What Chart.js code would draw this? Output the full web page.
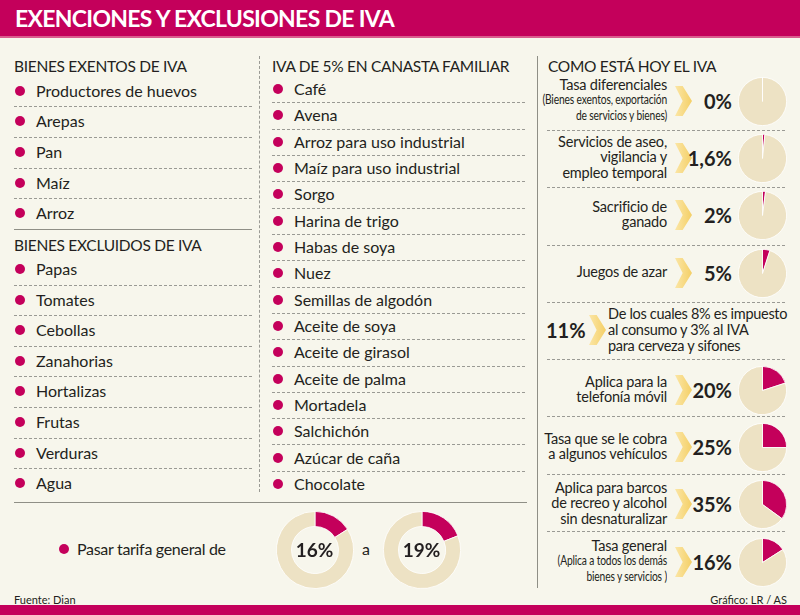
<!DOCTYPE html>
<html>
<head>
<meta charset="utf-8">
<script src="https://cdn.jsdelivr.net/npm/chart.js@4.4.1/dist/chart.umd.min.js"></script>
<style>
  html,body{margin:0;padding:0;}
  body{width:800px;height:615px;position:relative;overflow:hidden;background:#F7F6EC;font-family:Lato,"Open Sans",sans-serif;color:#231F20;}
  .abs{position:absolute;}
  #hdr{left:0;top:0;width:800px;height:36px;background:#C4005B;border-bottom:2px solid #DA5C8E;}
  #title{left:15px;top:4px;color:#fff;font-weight:700;font-size:23px;letter-spacing:-0.7px;white-space:nowrap;}
  #foot{left:0;top:605px;width:800px;height:10px;background:#C4005B;}
  .head{font-size:15.5px;white-space:nowrap;line-height:20px;letter-spacing:-0.3px;}
  .item{font-size:16px;white-space:nowrap;line-height:20px;}
  .dot{width:10px;height:10px;border-radius:50%;background:#C4005B;}
  .dash{height:0;border-top:1px dashed #9a9a94;}
  .solid{height:0;border-top:1px solid #8f8f86;}
  .lbl{font-size:14.5px;line-height:15.5px;text-align:right;white-space:nowrap;letter-spacing:-0.2px;}
  .lbl div{height:15.5px;}
  .cond{transform:scaleX(0.76);transform-origin:100% 50%;font-size:13.5px;}
  .pct{font-weight:700;font-size:20px;line-height:22px;text-align:right;white-space:nowrap;}
  .arrow{width:17px;height:30px;background:linear-gradient(90deg,#FBE6A6,#F4CF66);clip-path:polygon(0 0,45% 0,100% 50%,45% 100%,0 100%,45% 50%);}
  .small{font-size:11px;white-space:nowrap;}
</style>
</head>
<body>
<div id="hdr" class="abs"></div>
<div id="title" class="abs">EXENCIONES Y EXCLUSIONES DE IVA</div>
<div id="foot" class="abs"></div>
<div id="root"></div>
<script>
// ---- data ----
const exentosTitle = "BIENES EXENTOS DE IVA";
const exentos = ["Productores de huevos","Arepas","Pan","Maíz","Arroz"];
const excluidosTitle = "BIENES EXCLUIDOS DE IVA";
const excluidos = ["Papas","Tomates","Cebollas","Zanahorias","Hortalizas","Frutas","Verduras","Agua"];
const canastaTitle = "IVA DE 5% EN CANASTA FAMILIAR";
const canasta = ["Café","Avena","Arroz para uso industrial","Maíz para uso industrial","Sorgo","Harina de trigo","Habas de soya","Nuez","Semillas de algodón","Aceite de soya","Aceite de girasol","Aceite de palma","Mortadela","Salchichón","Azúcar de caña","Chocolate"];
const hoyTitle = "COMO ESTÁ HOY EL IVA";
const tasaLabels = [
  ["Tasa diferenciales","~(Bienes exentos, exportación","~de servicios y bienes)"],
  ["Servicios de aseo,","vigilancia y","empleo temporal"],
  ["Sacrificio de","ganado"],
  ["Juegos de azar"],
  ["Aplica para la","telefonía móvil"],
  ["Tasa que se le cobra","a algunos vehículos"],
  ["Aplica para barcos","de recreo y alcohol","sin desnaturalizar"],
  ["Tasa general","~(Aplica a todos los demás","~bienes y servicios )"]
];
const tasaText = ["0%","1,6%","2%","5%","20%","25%","35%","16%"];
const tasaValues = [0,1.6,2,5,20,25,35,16];
const licoresText = "11%";
const licoresLines = ["De los cuales 8% es impuesto","al consumo y 3% al IVA","para cerveza y sifones"];
const tarifaLabel = "Pasar tarifa general de";
const tarifaValues = [16,19];
const tarifaText = ["16%","19%"];
const fuente = "Fuente: Dian";
const credito = "Gráfico: LR / AS";

// ---- layout helpers ----
const root = document.getElementById('root');
function el(cls, x, y, html, extra){
  const d = document.createElement('div');
  d.className = 'abs ' + cls;
  d.style.left = x + 'px'; d.style.top = y + 'px';
  if (html !== undefined) d.innerHTML = html;
  if (extra) Object.assign(d.style, extra);
  root.appendChild(d); return d;
}
function hline(cls, x1, x2, y){ el(cls, x1, y, undefined, {width:(x2-x1)+'px'}); }
function textC(cls, x, cy, txt, h){ el(cls, x, cy - h/2, txt); }

const MAG = '#C4005B', BEIGE = '#EDE2C4';

// left column
textC('head', 14, 66, exentosTitle, 20);
const exY = [91,121,152,183,213];
exentos.forEach((t,i)=>{
  el('dot', 15, exY[i]-5);
  textC('item', 36, exY[i], t, 20);
  if (i < exentos.length-1) hline('dash', 14, 252, (exY[i]+exY[i+1])/2);
});
hline('solid', 14, 252, 229);
textC('head', 14, 245, excluidosTitle, 20);
const xcY = [269,300,330,361,391,422,453,483];
excluidos.forEach((t,i)=>{
  el('dot', 15, xcY[i]-5);
  textC('item', 36, xcY[i], t, 20);
  if (i < excluidos.length-1) hline('dash', 14, 252, (xcY[i]+xcY[i+1])/2);
});

// middle column
el('abs', 259, 56, undefined, {width:'0', height:'436px', borderLeft:'1px dashed #9a9a94'});
textC('head', 272, 66, canastaTitle, 20);
canasta.forEach((t,i)=>{
  const y = 89 + i*26.33;
  el('dot', 273, y-5);
  textC('item', 294, y, t, 20);
  if (i < canasta.length-1) hline('dash', 272, 525, y+13.2);
});
hline('solid', 14, 527, 502);

// bottom
el('dot', 59, 544);
el('item', 77, 539, tarifaLabel, {letterSpacing:'-0.3px'});
el('item', 362, 539, 'a');

// right column
el('abs', 537, 56, undefined, {width:'0', height:'532px', borderLeft:'1px solid #8f8f86'});
textC('head', 548, 66, hoyTitle, 20);
const rowY = [101,158,215,273,390,447,504,562];
const sepY = [130,187,245,302,359,416,474,531];
sepY.forEach(y=>hline('dash', 547, 785, y));

function pie(cx, cy, r, val, cut){
  const s = 2*r+2;
  const wrap = el('abs', cx - s/2, cy - s/2, undefined, {width:s+'px', height:s+'px'});
  const c = document.createElement('canvas');
  c.width = s; c.height = s; c.style.width = s+'px'; c.style.height = s+'px';
  wrap.appendChild(c);
  new Chart(c, {
    type: cut ? 'doughnut' : 'pie',
    data: { labels:['IVA','Resto'], datasets:[{ data:[val, 100-val], backgroundColor:[MAG, BEIGE], borderColor:'#FFFFFF', borderWidth:0.8 }] },
    options: {
      responsive:false, animation:false, devicePixelRatio:1, events:[],
      cutout: cut || 0,
      layout:{padding:0},
      plugins:{ legend:{display:false}, tooltip:{enabled:false} }
    }
  });
}

tasaLabels.forEach((lines,i)=>{
  const cy = rowY[i];
  const lh = 15.5;
  const html = lines.map(l => l.startsWith('~') ? '<div class="cond">'+l.slice(1)+'</div>' : '<div>'+l+'</div>').join('');
  el('lbl', 0, cy - lines.length*lh/2 - 1, html, {left:'auto', right:'133px'});
  el('arrow', 675, cy-15);
  el('pct', 0, cy-11, tasaText[i], {width:'732px'});
  pie(762, cy, 23.5, tasaValues[i], 0);
});

// 11% row
el('pct', 546, 319, licoresText, {textAlign:'left'});
el('arrow', 589, 315);
el('lbl', 608, 330 - 24, licoresLines.map(l=>'<div style="height:16px">'+l+'</div>').join(''), {textAlign:'left', lineHeight:'16px', letterSpacing:'-0.3px'});

// bottom donuts
pie(314.5, 549.5, 38, tarifaValues[0], '61%');
pie(421.5, 549.5, 38, tarifaValues[1], '61%');
el('pct', 314.5-30, 539, tarifaText[0], {width:'60px', textAlign:'center', fontSize:'19px'});
el('pct', 421.5-30, 539, tarifaText[1], {width:'60px', textAlign:'center', fontSize:'19px'});

el('small', 14, 593, fuente);
el('small', 0, 593, credito, {width:'787px', textAlign:'right'});
</script>
</body>
</html>
